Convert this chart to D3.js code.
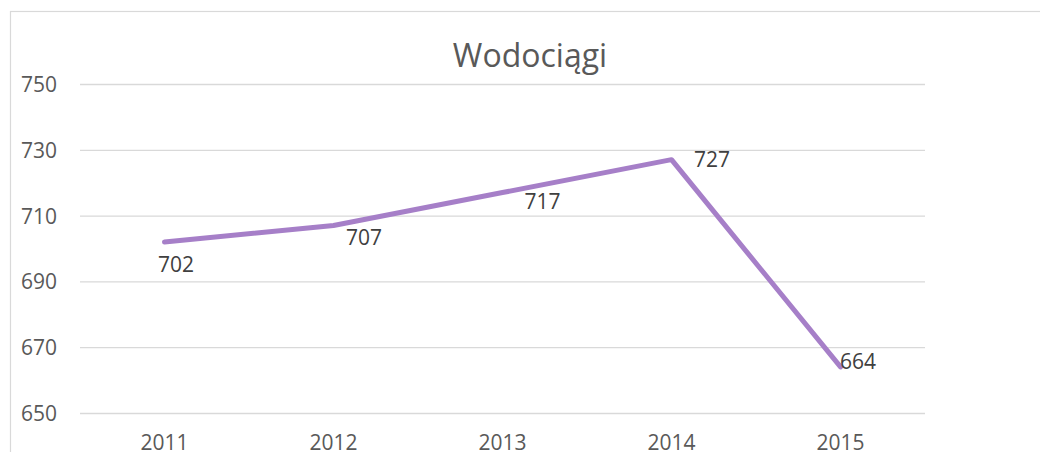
<!DOCTYPE html>
<html>
<head>
<meta charset="utf-8">
<script src="https://cdn.jsdelivr.net/npm/d3@7"></script>
<style>
  html, body { margin: 0; padding: 0; background: #fff; }
  svg { display: block; font-family: "Open Sans", "Noto Sans", sans-serif; }
</style>
</head>
<body>
<svg id="chart" width="1040" height="452"></svg>
<script>
// Liczba wodociągów w kolejnych latach
const years = ["2011", "2012", "2013", "2014", "2015"];
const values = [702, 707, 717, 727, 664];
const yTicks = [650, 670, 690, 710, 730, 750];
const chartTitle = "Wodociągi";

// Przesunięcia etykiet danych względem punktów (dx środka, dy linii bazowej)
const labelOffsets = [[11.5, 30], [30.5, 19.5], [40, 16.7], [40.5, 7], [17.5, 2.3]];

const svg = d3.select("#chart");
const W = 1040, H = 452;
const plot = { left: 80, right: 925, top: 84, bottom: 413 };

// Ramka obszaru wykresu
svg.append("rect")
  .attr("x", 10.5).attr("y", 11.5)
  .attr("width", W + 20).attr("height", H + 20)
  .attr("fill", "none")
  .attr("stroke", "#d9d9d9")
  .attr("stroke-width", 1.2);

const x = d3.scaleBand().domain(years).range([plot.left, plot.right]);
const y = d3.scaleLinear().domain([650, 750]).range([plot.bottom, plot.top]);

// Linie siatki i etykiety osi Y
const yAxis = d3.axisLeft(y).tickValues(yTicks).tickSize(-(plot.right - plot.left)).tickPadding(23);
const gy = svg.append("g").attr("transform", `translate(${plot.left},0)`).call(yAxis);
gy.select(".domain").remove();
gy.selectAll(".tick line").attr("stroke", "#d9d9d9").attr("stroke-width", 1.3);
gy.selectAll(".tick text")
  .attr("fill", "#595959")
  .style("font-size", "21px")
  .style("font-family", "'Open Sans', sans-serif")
  .attr("dy", "0.36em");

// Etykiety osi X
const xAxis = d3.axisBottom(x).tickSize(0).tickPadding(0);
const gx = svg.append("g").attr("transform", `translate(0,${plot.bottom})`).call(xAxis);
gx.select(".domain").remove();
gx.selectAll(".tick text")
  .attr("fill", "#595959")
  .style("font-size", "21px")
  .style("font-family", "'Open Sans', sans-serif")
  .attr("y", 37)
  .attr("dy", 0);

// Tytuł
svg.append("text")
  .attr("x", 530).attr("y", 67)
  .attr("text-anchor", "middle")
  .attr("fill", "#595959")
  .style("font-size", "32px")
  .text(chartTitle);

// Linia serii
const cx = d => x(d) + x.bandwidth() / 2;
const line = d3.line()
  .x((d, i) => cx(years[i]))
  .y(d => y(d));

svg.append("path")
  .datum(values)
  .attr("d", line)
  .attr("fill", "none")
  .attr("stroke", "#a67fc8")
  .attr("stroke-width", 5)
  .attr("stroke-linecap", "round")
  .attr("stroke-linejoin", "round");

// Etykiety danych
svg.append("g").selectAll("text")
  .data(values)
  .join("text")
  .attr("x", (d, i) => cx(years[i]) + labelOffsets[i][0])
  .attr("y", (d, i) => y(d) + labelOffsets[i][1])
  .attr("text-anchor", "middle")
  .attr("fill", "#404040")
  .style("font-size", "21px")
  .text(d => d);
</script>
</body>
</html>
